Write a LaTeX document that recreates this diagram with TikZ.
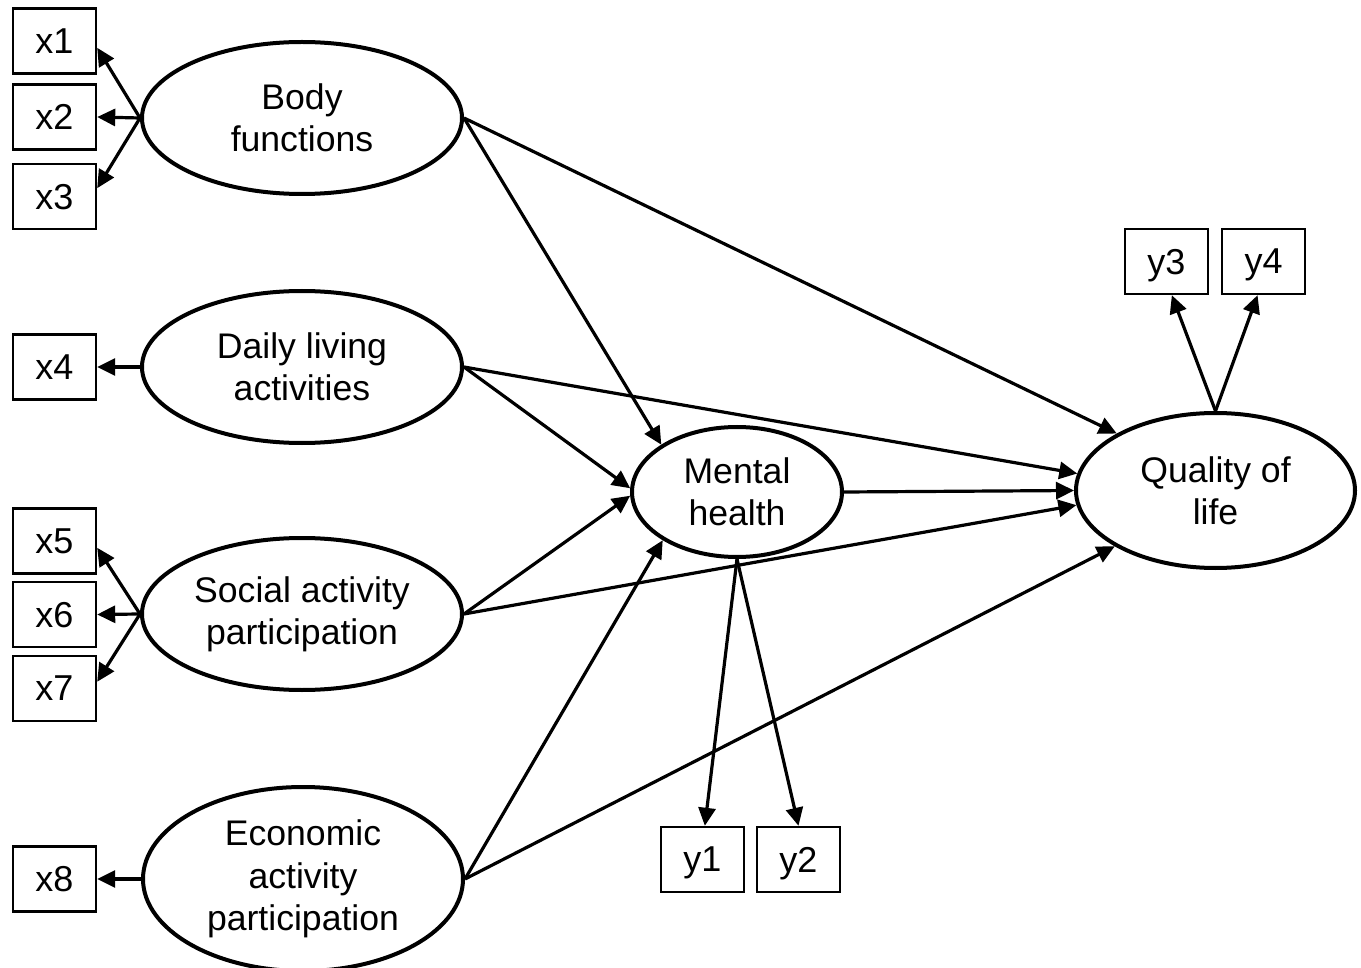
\documentclass[tikz,border=0pt]{standalone}
\usepackage{fontspec}
\setmainfont{Liberation Sans}
\usetikzlibrary{shapes.geometric,arrows.meta}
\begin{document}
\begin{tikzpicture}[x=0.5pt,y=-0.5pt,
  lat/.style={ellipse, draw, line width=2pt, inner sep=0pt, align=center, font=\fontsize{17.8}{21.2}\selectfont},
  obs/.style={rectangle, draw, line width=1.2pt, minimum width=41.5pt, minimum height=32.5pt, inner sep=0pt, text depth=0pt, font=\fontsize{18}{21}\selectfont},
  arr/.style={-{Triangle[length=9pt,width=8.5pt]}, line width=1.6pt}]
\useasboundingbox (0,0) rectangle (1361,968);
% latent variables
\node[lat, minimum width=160pt, minimum height=76pt] (bf) at (302,118) {Body\\functions};
\node[lat, minimum width=160pt, minimum height=76pt] (dl) at (302,367) {Daily living\\activities};
\node[lat, minimum width=160pt, minimum height=76pt] (sa) at (302,614) {Social activity\\participation};
\node[lat, minimum width=160pt, minimum height=92pt] (ea) at (303,879) {Economic\\activity\\participation};
\node[lat, minimum width=105pt, minimum height=65pt] (mh) at (737,492) {Mental\\health};
\node[lat, minimum width=139.5pt, minimum height=77.5pt] (ql) at (1215.5,490.5) {Quality of\\life};
% observed variables
\node[obs] (x1) at (54.5,41) {x1};
\node[obs] (x2) at (54.5,117) {x2};
\node[obs] (x3) at (54.5,196.5) {x3};
\node[obs] (x4) at (54.5,367) {x4};
\node[obs] (x5) at (54.5,541) {x5};
\node[obs] (x6) at (54.5,614.5) {x6};
\node[obs] (x7) at (54.5,688.5) {x7};
\node[obs] (x8) at (54.5,879) {x8};
\node[obs] (y1) at (702.5,859.5) {y1};
\node[obs] (y2) at (798.5,859.5) {y2};
\node[obs] (y3) at (1166.5,261.5) {y3};
\node[obs] (y4) at (1263.5,261.5) {y4};
% measurement arrows
\draw[arr] (bf.west) -- (x1.-9);
\draw[arr] (bf.west) -- (x2.east);
\draw[arr] (bf.west) -- (x3.11);
\draw[arr] (dl.west) -- (x4.east);
\draw[arr] (sa.west) -- (x5.-9);
\draw[arr] (sa.west) -- (x6.east);
\draw[arr] (sa.west) -- (x7.9);
\draw[arr] (ea.west) -- (x8.east);
\draw[arr] (mh.south) -- (y1.86);
\draw[arr] (mh.south) -- (y2.north);
\draw[arr] (ql.north) -- (y3.-81);
\draw[arr] (ql.north) -- (y4.-100);
% structural arrows
\draw[arr] (bf.east) -- (mh.148);
\draw[arr] (bf.east) -- (ql.150);
\draw[arr] (dl.east) -- (mh.178);
\draw[arr] (dl.east) -- (ql.173.6);
\draw[arr] (sa.east) -- (mh.182);
\draw[arr] (sa.east) -- (ql.186.4);
\draw[arr] (ea.east) -- (mh.213);
\draw[arr] (ea.east) -- (ql.209);
\draw[arr] (mh.east) -- (ql.180);
\end{tikzpicture}
\end{document}
